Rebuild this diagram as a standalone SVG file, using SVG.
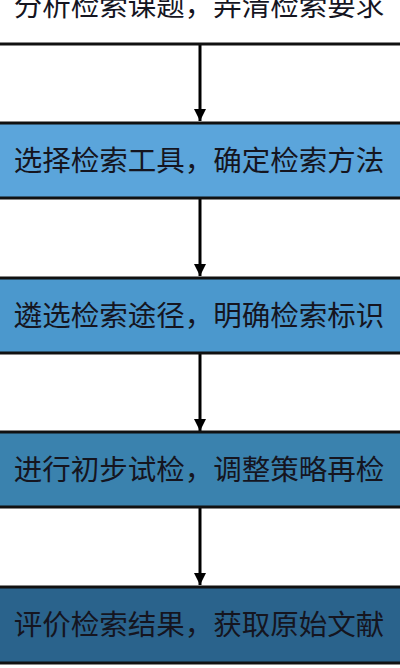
<svg xmlns="http://www.w3.org/2000/svg" width="400" height="668" viewBox="0 0 400 668">
<defs>
<style>
.box{stroke:#111;stroke-width:3}
.t{font-family:"Liberation Sans","Noto Sans CJK SC",sans-serif;font-size:28.5px;fill:#15151f;text-anchor:middle;dominant-baseline:central}
.c{stroke:#000;stroke-width:3;fill:none}
</style>
<marker id="ah" markerWidth="12" markerHeight="12" viewBox="0 0 12 12" refX="12" refY="6" orient="auto" markerUnits="userSpaceOnUse">
<path d="M0,0 L12,6 L0,12 z" fill="#000"/>
</marker>
</defs>
<rect x="0" y="0" width="400" height="668" fill="#fff"/>
<g id="connectors">
<line class="c" x1="200" y1="44" x2="200" y2="121" marker-end="url(#ah)"/>
<line class="c" x1="200" y1="199" x2="200" y2="276" marker-end="url(#ah)"/>
<line class="c" x1="200" y1="354" x2="200" y2="431" marker-end="url(#ah)"/>
<line class="c" x1="200" y1="508" x2="200" y2="585" marker-end="url(#ah)"/>
</g>
<g id="n1">
<rect class="box" x="-5" y="-32" width="410" height="76" fill="#fff"/>
<text class="t" x="199" y="6">分析检索课题，弄清检索要求</text>
</g>
<g id="n2">
<rect class="box" x="-5" y="123" width="410" height="75" fill="#5ba5db"/>
<text class="t" x="199" y="161">选择检索工具，确定检索方法</text>
</g>
<g id="n3">
<rect class="box" x="-5" y="278" width="410" height="75" fill="#4b98cd"/>
<text class="t" x="199" y="316">遴选检索途径，明确检索标识</text>
</g>
<g id="n4">
<rect class="box" x="-5" y="432" width="410" height="75" fill="#3a82ae"/>
<text class="t" x="199" y="470">进行初步试检，调整策略再检</text>
</g>
<g id="n5">
<rect class="box" x="-5" y="587" width="410" height="76" fill="#2a638c"/>
<text class="t" x="199" y="625">评价检索结果，获取原始文献</text>
</g>
</svg>
